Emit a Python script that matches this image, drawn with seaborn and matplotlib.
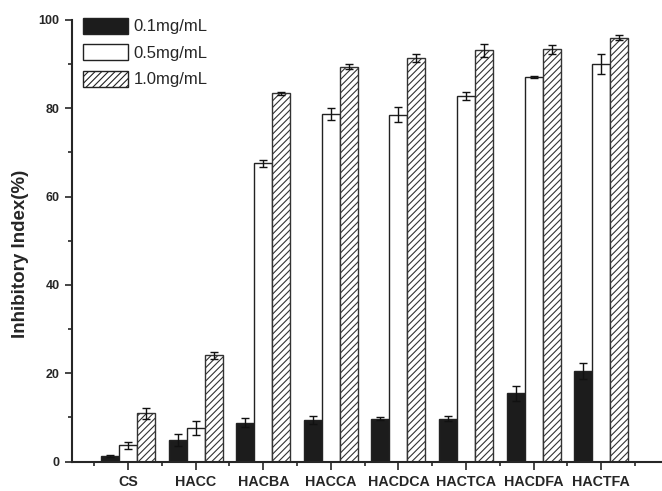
import numpy as np
import pandas as pd
import matplotlib
matplotlib.use("Agg")
import matplotlib.pyplot as plt
import seaborn as sns
from matplotlib.ticker import MultipleLocator

categories = ["CS", "HACC", "HACBA", "HACCA", "HACDCA", "HACTCA", "HACDFA", "HACTFA"]
series = ["0.1mg/mL", "0.5mg/mL", "1.0mg/mL"]
v01 = [1.2, 4.9, 8.8, 9.4, 9.7, 9.7, 15.5, 20.4]
v05 = [3.7, 7.5, 67.5, 78.7, 78.5, 82.8, 87.1, 90.0]
v10 = [10.9, 24.1, 83.4, 89.4, 91.4, 93.1, 93.4, 96.0]
e01 = [0.2, 1.3, 1.0, 0.9, 0.4, 0.6, 1.7, 1.8]
e05 = [0.8, 1.6, 0.9, 1.3, 1.7, 1.0, 0.3, 2.2]
e10 = [1.3, 0.8, 0.4, 0.6, 0.9, 1.4, 1.0, 0.5]

df = pd.DataFrame({
    "cat": categories * 3,
    "conc": [series[0]] * 8 + [series[1]] * 8 + [series[2]] * 8,
    "val": v01 + v05 + v10,
    "err": e01 + e05 + e10,
})

sns.set_style("ticks")
plt.rcParams["font.family"] = ["Liberation Sans", "DejaVu Sans"]
plt.rcParams["hatch.linewidth"] = 0.8

fig = plt.figure(figsize=(6.62, 4.91), dpi=100)
ax = fig.add_axes([72 / 662, 1 - 461.5 / 491, (662 - 72) / 662, (461.5 - 20) / 491])

palette = {series[0]: "#1c1c1c", series[1]: "white", series[2]: "white"}
sns.barplot(data=df, x="cat", y="val", hue="conc", order=categories,
            hue_order=series, palette=palette, width=0.8, errorbar=None,
            edgecolor="#222222", linewidth=1.0, ax=ax, legend=True)

errs = [e01, e05, e10]
vals = [v01, v05, v10]
bar_containers = list(ax.containers)
for k, cont in enumerate(bar_containers):
    xs = [p.get_x() + p.get_width() / 2 for p in cont.patches]
    if k == 2:
        for p in cont.patches:
            p.set_hatch("/////")
            p.set_edgecolor("#333333")
    ax.errorbar(xs, vals[k], yerr=errs[k], fmt="none", ecolor="#111111",
                elinewidth=1.0, capsize=3, capthick=1.0, zorder=5)

# legend
handles, labels = ax.get_legend_handles_labels()
handles[2].set_hatch("/////")
for h in handles:
    h.set_edgecolor("#222222")
ax.legend(handles, labels, loc="upper left", bbox_to_anchor=(0.0186, 1.005),
          frameon=False, fontsize=12, handlelength=2.7, handleheight=1.08,
          labelspacing=0.6, handletextpad=0.35, borderpad=0, borderaxespad=0)

ax.set_xlim(-0.83, 7.9)
ax.set_ylim(0, 100)
ax.yaxis.set_major_locator(MultipleLocator(20))
ax.yaxis.set_minor_locator(MultipleLocator(10))
ax.set_xticks(np.arange(len(categories)))
ax.set_xticks(list(np.arange(len(categories)) - 0.5) + [7.5], minor=True)
ax.set_xticklabels(categories, fontsize=10.3, fontweight="bold")
for lab in ax.get_yticklabels():
    lab.set_fontweight("bold")
ax.tick_params(axis="y", which="major", length=5, width=1.2, labelsize=9, pad=4)
ax.tick_params(axis="y", which="minor", length=3, width=1.2)
ax.tick_params(axis="x", which="major", length=6, width=1.2, pad=4)
ax.tick_params(axis="x", which="minor", length=3, width=1.2)
ax.set_xlabel("")
ax.set_ylabel("Inhibitory Index(%)", fontsize=13.5, fontweight="bold")
ax.yaxis.set_label_coords(-43 / 590, 0.47)

sns.despine(ax=ax)
for s in ["left", "bottom"]:
    ax.spines[s].set_linewidth(1.5)

fig.savefig("out.png", dpi=100)
